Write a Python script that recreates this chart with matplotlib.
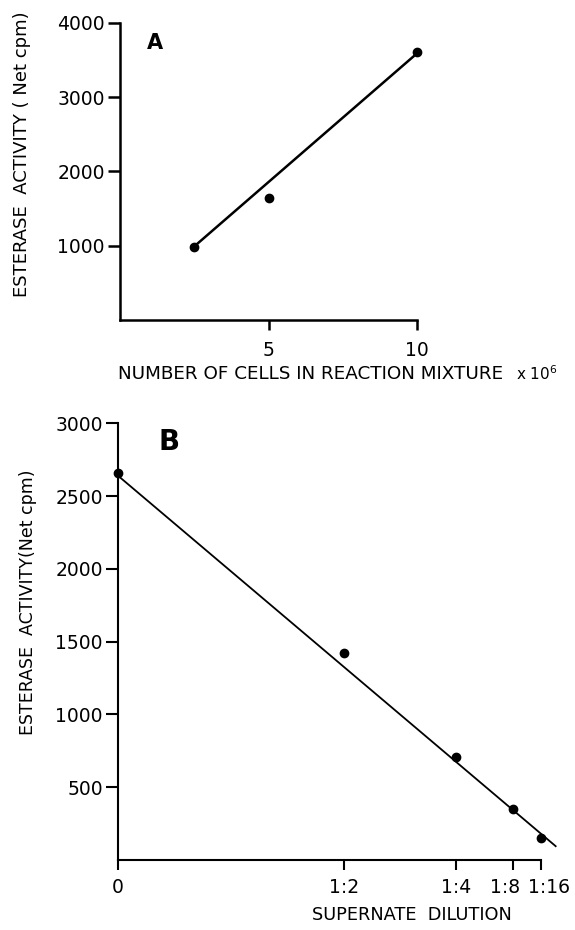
import matplotlib
matplotlib.use("Agg")
import matplotlib.pyplot as plt
import matplotlib.transforms as mtrans
import numpy as np

# A: esterase activity vs number of cells (x 10^6)
cells = [2.5, 5, 10]
activity_a = [980, 1640, 3600]
line_a_cells = [2.5, 9.95]
line_a_activity = [990, 3570]

# B: esterase activity vs supernate dilution
dilution = [1, 2, 4, 8, 16]
dilution_labels = ["0", "1:2", "1:4", "1:8", "1:16"]
activity_b = [2660, 1420, 710, 350, 150]
line_b_conc = [1.0, 0.03]
line_b_activity = [2640, 95]

plt.rcParams['font.family'] = ['DejaVu Sans']

W, H = 575, 930
fig = plt.figure(figsize=(W / 100, H / 100), dpi=100)


def px_axes(left, top, right, bottom):
    return fig.add_axes([left / W, 1 - bottom / H, (right - left) / W, (bottom - top) / H])


def style(ax, lw, xpad):
    for s in ["top", "right"]:
        ax.spines[s].set_visible(False)
    for s in ["left", "bottom"]:
        ax.spines[s].set_linewidth(lw)
    ax.tick_params(axis="y", direction="out", length=9, width=lw, pad=2, labelsize=13.5)
    ax.tick_params(axis="x", direction="out", length=7, width=lw, pad=xpad, labelsize=13.5)


# ---- panel A ----
axA = px_axes(120, 22.7, 417, 320)
axA.plot(line_a_cells, line_a_activity, color="black", lw=1.8)
axA.plot(cells, activity_a, "o", color="black", ms=6, clip_on=False)
axA.set_xlim(0, 10)
axA.set_ylim(0, 4000)
axA.set_xticks([5, 10])
axA.set_xticklabels(["5", "10"])
axA.set_yticks([1000, 2000, 3000, 4000])
style(axA, 1.8, 8)
fig.text(155 / W, 1 - 43 / H, "A", fontsize=15, fontweight="bold",
         ha="center", va="center")
fig.text(22 / W, 1 - 154 / H, "ESTERASE  ACTIVITY ( Net cpm)", rotation=90,
         fontsize=13, ha="center", va="center")
fig.text(118 / W, 1 - 374 / H, "NUMBER OF CELLS IN REACTION MIXTURE",
         fontsize=13.2, ha="left", va="center")
fig.text(516 / W, 1 - 374 / H, r"x 10$^6$", fontsize=11, ha="left", va="center")

# ---- panel B ----
conc_b = 1 / np.array(dilution, dtype=float)
xb = 1 - conc_b
axB = px_axes(118, 423.3, 541, 860)
axB.plot(1 - np.array(line_b_conc), line_b_activity, color="black", lw=1.3, clip_on=False)
axB.plot(xb, activity_b, "o", color="black", ms=6, clip_on=False)
axB.set_xlim(0, xb[-1])
axB.set_ylim(0, 3000)
axB.set_xticks(xb)
axB.set_xticklabels(dilution_labels, fontsize=12)
axB.set_yticks([500, 1000, 1500, 2000, 2500, 3000])
style(axB, 1.5, 6)
# spread the two crowded labels at the right end
for lab, dx in zip(axB.get_xticklabels()[3:], (-8, 8)):
    lab.set_transform(lab.get_transform() + mtrans.ScaledTranslation(dx / 100, 0, fig.dpi_scale_trans))
fig.text(169 / W, 1 - 442 / H, "B", fontsize=20, fontweight="bold",
         ha="center", va="center")
fig.text(28 / W, 1 - 602 / H, "ESTERASE  ACTIVITY(Net cpm)", rotation=90,
         fontsize=12.5, ha="center", va="center")
fig.text(412 / W, 1 - 915 / H, "SUPERNATE  DILUTION", fontsize=12.8,
         ha="center", va="center")

fig.savefig("out.png", dpi=100)
